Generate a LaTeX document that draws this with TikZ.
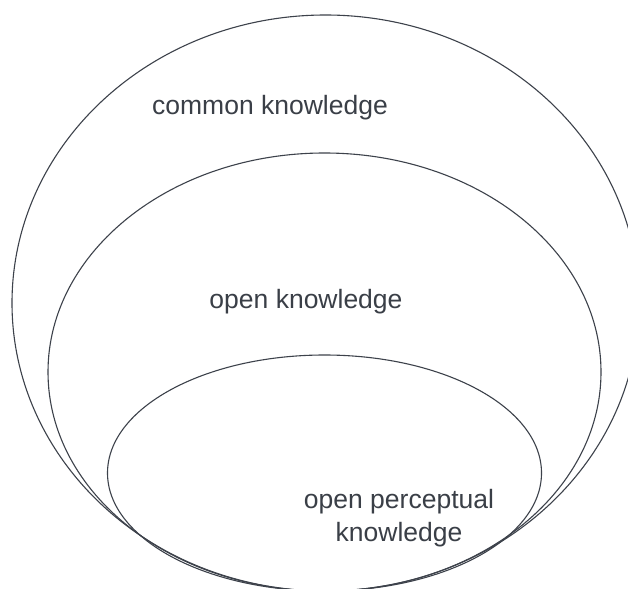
\documentclass[tikz,border=0pt]{standalone}
\usepackage{fontspec}
\setmainfont{Liberation Sans}
\usetikzlibrary{shapes.geometric}
\definecolor{linec}{HTML}{3D424B}
\definecolor{textc}{HTML}{3A3F47}
\begin{document}
\begin{tikzpicture}[x=1pt,y=-1pt,
  blob/.style={draw=linec, line width=1.1pt, ellipse, inner sep=0pt, outer sep=0pt},
  lbl/.style={text=textc, font=\fontsize{26.5}{31}\selectfont, inner sep=0pt, align=center}]
\useasboundingbox (0,0) rectangle (628,588);
\clip (0,0) rectangle (628,588);
\fill[white] (0,0) rectangle (628,588);
\node[blob, minimum width=627pt, minimum height=576pt] (outer) at (325.5,303) {};
\node[blob, minimum width=553pt, minimum height=438pt] (middle) at (324.5,372) {};
\node[blob, minimum width=434pt, minimum height=236pt] (inner) at (324.5,473) {};
\node[lbl, anchor=base] (tc) at (270,115) {common knowledge};
\node[lbl, anchor=base] (to) at (306,308) {open knowledge};
\node[lbl, anchor=base] (tp1) at (399,508) {open perceptual};
\node[lbl, anchor=base] (tp2) at (399,541) {knowledge};
\end{tikzpicture}
\end{document}
